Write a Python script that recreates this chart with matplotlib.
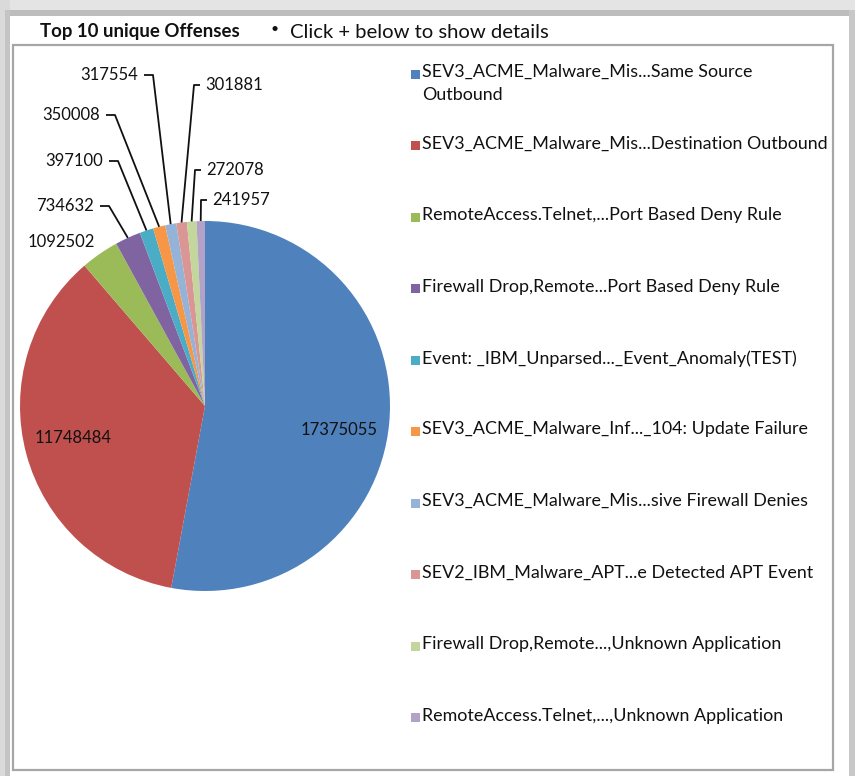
import matplotlib
matplotlib.use('Agg')
import matplotlib.pyplot as plt
from matplotlib.patches import Rectangle
import numpy as np

plt.rcParams['font.family'] = ['Lato', 'DejaVu Sans']

offenses = [
    'SEV3_ACME_Malware_Mis...Same Source\nOutbound',
    'SEV3_ACME_Malware_Mis...Destination Outbound',
    'RemoteAccess.Telnet,...Port Based Deny Rule',
    'Firewall Drop,Remote...Port Based Deny Rule',
    'Event: _IBM_Unparsed..._Event_Anomaly(TEST)',
    'SEV3_ACME_Malware_Inf..._104: Update Failure',
    'SEV3_ACME_Malware_Mis...sive Firewall Denies',
    'SEV2_IBM_Malware_APT...e Detected APT Event',
    'Firewall Drop,Remote...,Unknown Application',
    'RemoteAccess.Telnet,...,Unknown Application',
]
counts = [17375055, 11748484, 1092502, 734632, 397100,
          350008, 317554, 301881, 272078, 241957]
colors = ['#4F81BD', '#C0504D', '#9BBB59', '#8064A2', '#4BACC6',
          '#F79646', '#95B3D7', '#D99694', '#C3D69B', '#B3A2C7']

# label anchor in pixels (x of text edge, y centre) and side of the pie
label_px = [(339, 430), (73, 438), (95, 242), (94, 206), (103, 161),
            (100, 115), (138, 75), (205, 85), (206, 170), (212, 200)]
label_side = ['in', 'in', 'left', 'left', 'left', 'left', 'left',
              'right', 'right', 'right']
leader = [False, False, False, True, True, True, True, True, True, True]

W, H = 855, 776
CX, CY, R = 205, 406, 185

fig = plt.figure(figsize=(W / 100, H / 100), dpi=100)
fig.patch.set_facecolor('white')

def fx(px):
    return px / W

def fy(py):
    return 1 - py / H

# card shadow / border
fig.add_artist(Rectangle((0, fy(16)), 1, 16 / H, transform=fig.transFigure,
                         facecolor='#e4e4e4', edgecolor='none'))
fig.add_artist(Rectangle((0, fy(16)), 1, 6 / H, transform=fig.transFigure,
                         facecolor='#bdbdbd', edgecolor='none'))
fig.add_artist(Rectangle((0, 0), 10 / W, 1, transform=fig.transFigure,
                         facecolor='#dadada', edgecolor='none'))
fig.add_artist(Rectangle((5 / W, 0), 5 / W, fy(10), transform=fig.transFigure,
                         facecolor='#c4c4c4', edgecolor='none'))
fig.add_artist(Rectangle((849 / W, 0), 6 / W, fy(10), transform=fig.transFigure,
                         facecolor='#c8c8c8', edgecolor='none'))
fig.add_artist(Rectangle((fx(13), fy(770)), (833 - 13) / W, (770 - 45) / H,
                         transform=fig.transFigure, facecolor='none',
                         edgecolor='#a6a6a6', linewidth=1.6))

fig.text(fx(40), fy(32), 'Top 10 unique Offenses', fontsize=13.4,
         fontweight='bold', va='center', ha='left', color='#111111')
fig.text(fx(270), fy(29), '\u2022', fontsize=10, va='center', ha='left',
         color='#111111')
fig.text(fx(290), fy(32), 'Click + below to show details', fontsize=14.6,
         va='center', ha='left', color='#111111')

ax = fig.add_axes([fx(CX - R), fy(CY + R), 2 * R / W, 2 * R / H])
ax.pie(counts, colors=colors, startangle=90, counterclock=False, radius=1,
       wedgeprops=dict(linewidth=0))
ax.set_xlim(-1, 1)
ax.set_ylim(-1, 1)
ax.axis('off')

total = float(sum(counts))
cum = np.cumsum(counts) / total
mid = cum - np.array(counts) / total / 2
angles = np.deg2rad(90 - mid * 360)

def to_data(px, py):
    return (px - CX) / R, (CY - py) / R

for i, v in enumerate(counts):
    tx, ty = to_data(*label_px[i])
    side = label_side[i]
    ha = {'in': 'center', 'left': 'right', 'right': 'left'}[side]
    ax.text(tx, ty, str(v), fontsize=12, ha=ha, va='center', color='#111111')
    if leader[i]:
        sx, sy = np.cos(angles[i]), np.sin(angles[i])
        if side == 'left':
            x0, x1 = tx + 6 / R, tx + 15 / R
        else:
            x0, x1 = tx - 5 / R, tx - 11 / R
        ax.plot([x0, x1, sx], [ty, ty, sy], color='#111111', lw=1.3,
                clip_on=False, solid_capstyle='butt')

# legend
leg_y0, leg_dy = 74, 71.5
for i, name in enumerate(offenses):
    y = leg_y0 + i * leg_dy
    fig.add_artist(Rectangle((fx(411), fy(y + 4.5)), 9 / W, 9 / H,
                             transform=fig.transFigure, facecolor=colors[i],
                             edgecolor='none'))
    fig.text(fx(422), fy(y - 10), name, fontsize=12.9, va='top', ha='left',
             color='#111111', linespacing=1.55)

fig.savefig('out.png', dpi=100)
